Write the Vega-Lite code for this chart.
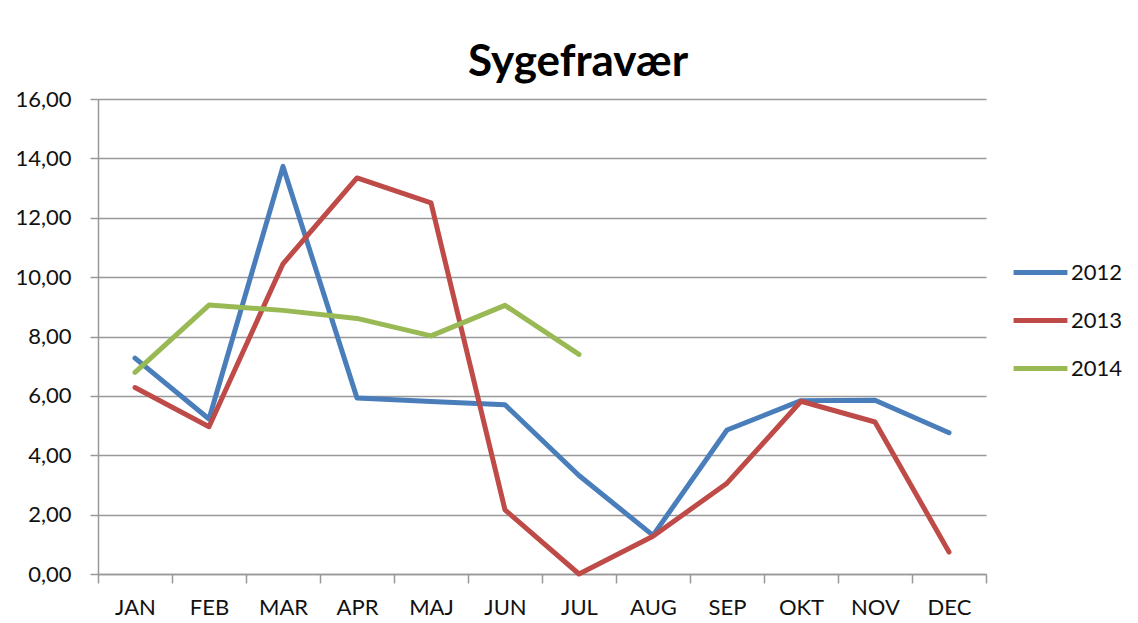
{
  "$schema": "https://vega.github.io/schema/vega-lite/v6.json",
  "autosize": {"type": "none"},
  "width": 888,
  "height": 475,
  "padding": {"left": 98, "top": 99, "right": 152, "bottom": 49},
  "background": "white",
  "title": {
    "text": "Sygefravær",
    "font": "Lato",
    "fontSize": 44,
    "fontWeight": "bold",
    "color": "#000000",
    "anchor": "middle",
    "dx": 36,
    "dy": 56,
    "baseline": "alphabetic",
    "offset": 24
  },
  "data": {
    "values": [
      {"month": "JAN", "year": "2012", "value": 7.27},
      {"month": "FEB", "year": "2012", "value": 5.22},
      {"month": "MAR", "year": "2012", "value": 13.73},
      {"month": "APR", "year": "2012", "value": 5.93},
      {"month": "MAJ", "year": "2012", "value": 5.81},
      {"month": "JUN", "year": "2012", "value": 5.70},
      {"month": "JUL", "year": "2012", "value": 3.32},
      {"month": "AUG", "year": "2012", "value": 1.30},
      {"month": "SEP", "year": "2012", "value": 4.85},
      {"month": "OKT", "year": "2012", "value": 5.84},
      {"month": "NOV", "year": "2012", "value": 5.85},
      {"month": "DEC", "year": "2012", "value": 4.76},
      {"month": "JAN", "year": "2013", "value": 6.28},
      {"month": "FEB", "year": "2013", "value": 4.96},
      {"month": "MAR", "year": "2013", "value": 10.45},
      {"month": "APR", "year": "2013", "value": 13.34},
      {"month": "MAJ", "year": "2013", "value": 12.50},
      {"month": "JUN", "year": "2013", "value": 2.16},
      {"month": "JUL", "year": "2013", "value": 0.0},
      {"month": "AUG", "year": "2013", "value": 1.27},
      {"month": "SEP", "year": "2013", "value": 3.06},
      {"month": "OKT", "year": "2013", "value": 5.82},
      {"month": "NOV", "year": "2013", "value": 5.12},
      {"month": "DEC", "year": "2013", "value": 0.74},
      {"month": "JAN", "year": "2014", "value": 6.79},
      {"month": "FEB", "year": "2014", "value": 9.06},
      {"month": "MAR", "year": "2014", "value": 8.88},
      {"month": "APR", "year": "2014", "value": 8.61},
      {"month": "MAJ", "year": "2014", "value": 8.02},
      {"month": "JUN", "year": "2014", "value": 9.05},
      {"month": "JUL", "year": "2014", "value": 7.40}
    ]
  },
  "mark": {"type": "line", "strokeWidth": 5, "strokeCap": "round", "strokeJoin": "round"},
  "encoding": {
    "x": {
      "field": "month",
      "type": "nominal",
      "sort": ["JAN", "FEB", "MAR", "APR", "MAJ", "JUN", "JUL", "AUG", "SEP", "OKT", "NOV", "DEC"],
      "scale": {"type": "band", "paddingInner": 0, "paddingOuter": 0},
      "axis": {
        "title": null,
        "labelAngle": 0,
        "tickBand": "extent",
        "tickSize": 9,
        "tickColor": "#999999",
        "tickWidth": 1.5,
        "domainColor": "#999999",
        "domainWidth": 1.5,
        "labelFont": "Lato",
        "labelFontSize": 22,
        "labelColor": "#111111",
        "labelPadding": 14,
        "grid": false
      }
    },
    "y": {
      "field": "value",
      "type": "quantitative",
      "scale": {"domain": [0, 16], "nice": false},
      "axis": {
        "title": null,
        "values": [0, 2, 4, 6, 8, 10, 12, 14, 16],
        "labelExpr": "replace(format(datum.value, '.2f'), '.', ',')",
        "tickSize": 8,
        "tickColor": "#999999",
        "tickWidth": 1.5,
        "domainColor": "#999999",
        "domainWidth": 1.5,
        "gridColor": "#999999",
        "gridWidth": 1.5,
        "labelFont": "Lato",
        "labelFontSize": 22,
        "labelColor": "#111111",
        "labelPadding": 19
      }
    },
    "color": {
      "field": "year",
      "type": "nominal",
      "scale": {"domain": ["2012", "2013", "2014"], "range": ["#4A7EBB", "#BE4B48", "#98B954"]},
      "legend": {
        "title": null,
        "orient": "none",
        "legendX": 913,
        "legendY": 144,
        "symbolType": "stroke",
        "symbolSize": 2900,
        "symbolStrokeWidth": 5,
        "labelFont": "Lato",
        "labelFontSize": 22,
        "labelColor": "#111111",
        "labelOffset": 1,
        "rowPadding": 7,
        "padding": 0
      }
    }
  },
  "config": {
    "view": {"stroke": null}
  }
}
